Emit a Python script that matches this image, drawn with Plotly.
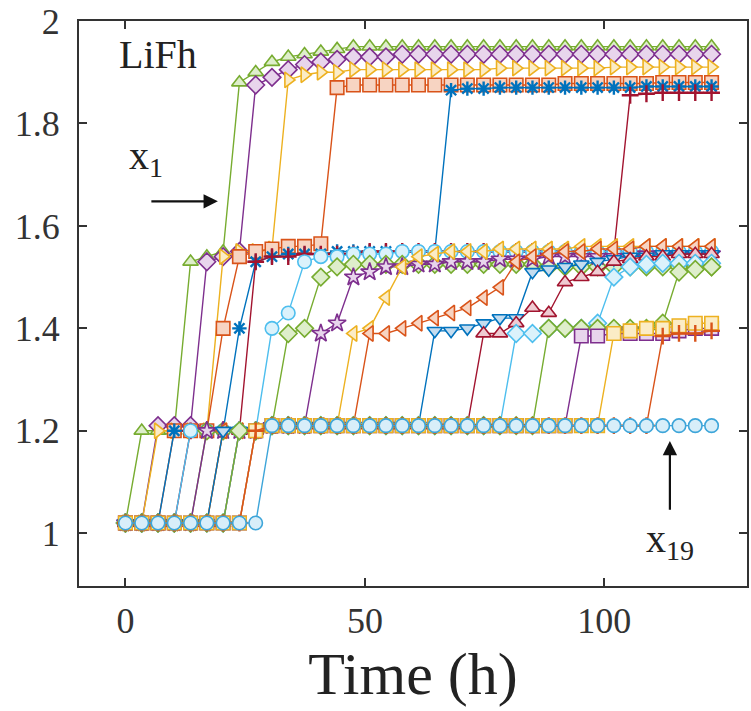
import plotly.graph_objects as go

time_h = [0.0, 3.4, 6.8, 10.2, 13.6, 17.0, 20.4, 23.8, 27.2, 30.6,
          34.0, 37.4, 40.8, 44.2, 47.6, 51.0, 54.4, 57.8, 61.2, 64.6,
          68.0, 71.4, 74.8, 78.2, 81.6, 85.0, 88.4, 91.8, 95.2, 98.6,
          102.0, 105.4, 108.8, 112.2, 115.6, 119.0, 122.4]

s01 = [1.02, 1.20, 1.20, 1.20, 1.53, 1.54, 1.55, 1.88, 1.90, 1.92,
       1.93, 1.935, 1.94, 1.945, 1.95, 1.95, 1.95, 1.95, 1.95, 1.95,
       1.95, 1.95, 1.95, 1.95, 1.95, 1.95, 1.95, 1.95, 1.95, 1.95,
       1.95, 1.95, 1.95, 1.95, 1.95, 1.95, 1.95]
s02 = [1.02, 1.02, 1.21, 1.21, 1.21, 1.53, 1.54, 1.55, 1.875, 1.89,
       1.905, 1.915, 1.92, 1.925, 1.93, 1.93, 1.93, 1.935, 1.935, 1.935,
       1.935, 1.935, 1.935, 1.935, 1.935, 1.935, 1.935, 1.935, 1.935, 1.935,
       1.935, 1.935, 1.935, 1.935, 1.935, 1.935, 1.935]
s03 = [1.02, 1.02, 1.20, 1.20, 1.20, 1.20, 1.54, 1.55, 1.55, 1.555,
       1.885, 1.895, 1.90, 1.90, 1.905, 1.905, 1.905, 1.905, 1.905, 1.905,
       1.905, 1.905, 1.905, 1.908, 1.908, 1.908, 1.908, 1.908, 1.908, 1.908,
       1.91, 1.91, 1.91, 1.91, 1.91, 1.91, 1.91]
s04 = [1.02, 1.02, 1.02, 1.20, 1.20, 1.20, 1.40, 1.54, 1.55, 1.555,
       1.56, 1.56, 1.565, 1.87, 1.875, 1.875, 1.875, 1.875, 1.875, 1.875,
       1.875, 1.875, 1.875, 1.875, 1.875, 1.875, 1.875, 1.878, 1.878, 1.878,
       1.878, 1.878, 1.878, 1.88, 1.88, 1.88, 1.88]
s05 = [1.02, 1.02, 1.02, 1.20, 1.20, 1.20, 1.20, 1.40, 1.53, 1.54,
       1.545, 1.545, 1.545, 1.55, 1.55, 1.55, 1.55, 1.55, 1.55, 1.55,
       1.865, 1.868, 1.868, 1.87, 1.87, 1.87, 1.87, 1.87, 1.87, 1.87,
       1.87, 1.87, 1.872, 1.872, 1.872, 1.872, 1.872]
s06 = [1.02, 1.02, 1.02, 1.02, 1.20, 1.20, 1.20, 1.20, 1.53, 1.54,
       1.54, 1.545, 1.545, 1.545, 1.545, 1.55, 1.55, 1.55, 1.55, 1.55,
       1.55, 1.55, 1.55, 1.55, 1.55, 1.55, 1.55, 1.55, 1.55, 1.55,
       1.55, 1.855, 1.858, 1.86, 1.86, 1.86, 1.86]
s07 = [1.02, 1.02, 1.02, 1.02, 1.20, 1.20, 1.20, 1.20, 1.20, 1.40,
       1.43, 1.53, 1.54, 1.54, 1.545, 1.545, 1.545, 1.55, 1.55, 1.55,
       1.55, 1.55, 1.55, 1.55, 1.55, 1.55, 1.55, 1.55, 1.55, 1.55,
       1.55, 1.55, 1.55, 1.55, 1.55, 1.55, 1.55]
s08 = [1.02, 1.02, 1.02, 1.02, 1.02, 1.20, 1.20, 1.20, 1.20, 1.21,
       1.39, 1.40, 1.50, 1.52, 1.525, 1.525, 1.525, 1.525, 1.525, 1.525,
       1.525, 1.525, 1.525, 1.525, 1.525, 1.525, 1.52, 1.52, 1.52, 1.52,
       1.52, 1.52, 1.52, 1.52, 1.52, 1.52, 1.52]
s09 = [1.02, 1.02, 1.02, 1.02, 1.02, 1.20, 1.20, 1.20, 1.20, 1.21,
       1.21, 1.21, 1.39, 1.41, 1.50, 1.51, 1.52, 1.52, 1.525, 1.525,
       1.53, 1.53, 1.53, 1.535, 1.535, 1.535, 1.54, 1.54, 1.54, 1.54,
       1.54, 1.54, 1.545, 1.545, 1.545, 1.545, 1.545]
s10 = [1.02, 1.02, 1.02, 1.02, 1.02, 1.02, 1.20, 1.20, 1.20, 1.21,
       1.21, 1.21, 1.21, 1.21, 1.39, 1.40, 1.46, 1.52, 1.54, 1.545,
       1.55, 1.55, 1.55, 1.555, 1.555, 1.555, 1.555, 1.555, 1.56, 1.56,
       1.56, 1.56, 1.56, 1.56, 1.56, 1.56, 1.56]
s11 = [1.02, 1.02, 1.02, 1.02, 1.02, 1.02, 1.20, 1.20, 1.20, 1.21,
       1.21, 1.21, 1.21, 1.21, 1.21, 1.39, 1.39, 1.40, 1.41, 1.42,
       1.43, 1.44, 1.46, 1.48, 1.53, 1.54, 1.545, 1.55, 1.55, 1.555,
       1.555, 1.555, 1.56, 1.56, 1.56, 1.56, 1.56]
s12 = [1.02, 1.02, 1.02, 1.02, 1.02, 1.02, 1.20, 1.20, 1.20, 1.21,
       1.21, 1.21, 1.21, 1.21, 1.21, 1.21, 1.21, 1.21, 1.21, 1.395,
       1.395, 1.40, 1.41, 1.42, 1.42, 1.51, 1.515, 1.52, 1.525, 1.53,
       1.535, 1.54, 1.54, 1.545, 1.545, 1.545, 1.545]
s13 = [1.02, 1.02, 1.02, 1.02, 1.02, 1.02, 1.02, 1.20, 1.20, 1.21,
       1.21, 1.21, 1.21, 1.21, 1.21, 1.21, 1.21, 1.21, 1.21, 1.21,
       1.21, 1.21, 1.39, 1.39, 1.41, 1.44, 1.43, 1.49, 1.50, 1.51,
       1.53, 1.535, 1.54, 1.54, 1.545, 1.545, 1.545]
s14 = [1.02, 1.02, 1.02, 1.02, 1.02, 1.02, 1.02, 1.20, 1.20, 1.21,
       1.21, 1.21, 1.21, 1.21, 1.21, 1.21, 1.21, 1.21, 1.21, 1.21,
       1.21, 1.21, 1.21, 1.21, 1.39, 1.39, 1.40, 1.40, 1.40, 1.41,
       1.50, 1.52, 1.525, 1.527, 1.527, 1.527, 1.527]
s15 = [1.02, 1.02, 1.02, 1.02, 1.02, 1.02, 1.02, 1.20, 1.20, 1.21,
       1.21, 1.21, 1.21, 1.21, 1.21, 1.21, 1.21, 1.21, 1.21, 1.21,
       1.21, 1.21, 1.21, 1.21, 1.21, 1.21, 1.40, 1.40, 1.40, 1.40,
       1.40, 1.40, 1.40, 1.41, 1.51, 1.515, 1.52]
s16 = [1.02, 1.02, 1.02, 1.02, 1.02, 1.02, 1.02, 1.02, 1.20, 1.21,
       1.21, 1.21, 1.21, 1.21, 1.21, 1.21, 1.21, 1.21, 1.21, 1.21,
       1.21, 1.21, 1.21, 1.21, 1.21, 1.21, 1.21, 1.21, 1.385, 1.385,
       1.39, 1.39, 1.39, 1.39, 1.395, 1.40, 1.40]
s17 = [1.02, 1.02, 1.02, 1.02, 1.02, 1.02, 1.02, 1.02, 1.20, 1.21,
       1.21, 1.21, 1.21, 1.21, 1.21, 1.21, 1.21, 1.21, 1.21, 1.21,
       1.21, 1.21, 1.21, 1.21, 1.21, 1.21, 1.21, 1.21, 1.21, 1.21,
       1.39, 1.395, 1.40, 1.40, 1.405, 1.41, 1.41]
s18 = [1.02, 1.02, 1.02, 1.02, 1.02, 1.02, 1.02, 1.02, 1.20, 1.21,
       1.21, 1.21, 1.21, 1.21, 1.21, 1.21, 1.21, 1.21, 1.21, 1.21,
       1.21, 1.21, 1.21, 1.21, 1.21, 1.21, 1.21, 1.21, 1.21, 1.21,
       1.21, 1.21, 1.21, 1.385, 1.39, 1.39, 1.395]
s19 = [1.02, 1.02, 1.02, 1.02, 1.02, 1.02, 1.02, 1.02, 1.02, 1.21,
       1.21, 1.21, 1.21, 1.21, 1.21, 1.21, 1.21, 1.21, 1.21, 1.21,
       1.21, 1.21, 1.21, 1.21, 1.21, 1.21, 1.21, 1.21, 1.21, 1.21,
       1.21, 1.21, 1.21, 1.21, 1.21, 1.21, 1.21]

series_values = [s01, s02, s03, s04, s05, s06, s07, s08, s09, s10,
                 s11, s12, s13, s14, s15, s16, s17, s18, s19]
series_names = ["x<sub>%d</sub>" % k for k in range(1, 20)]

x_ticks = [0, 50, 100]
y_ticks = [1.0, 1.2, 1.4, 1.6, 1.8, 2.0]
y_tick_labels = ["1", "1.2", "1.4", "1.6", "1.8", "2"]

# styles (MATLAB default palette)
B, O, Y, P, G, C, R = "#0072BD", "#D95319", "#EDB120", "#7E2F8E", "#77AC30", "#4DBEEE", "#A2142F"
X19 = "#3DA5D9"
TINT = {B: "#c4dcef", O: "#f7d4c2", Y: "#fbecc6", P: "#e8d5ec", G: "#deeecb",
        C: "#dbf2fb", R: "#efcbd2", X19: "#d8eef9"}
styles = [
    (G, "triangle-up"), (P, "diamond"), (Y, "triangle-right"), (O, "square"),
    (B, "asterisk-open"), (R, "cross-thin-open"), (C, "circle"), (G, "diamond"),
    (P, "star"), (Y, "triangle-left"), (O, "triangle-left"), (B, "triangle-down"),
    (R, "triangle-up"), (C, "diamond"), (G, "diamond"), (P, "square"),
    (Y, "square"), (O, "cross-thin-open"), (X19, "circle"),
]

fig = go.Figure()
for vals, name, (col, sym) in zip(series_values, series_names, styles):
    if sym.endswith("-open"):
        marker = dict(symbol=sym, size=12, color=col, line=dict(color=col, width=2.4))
    else:
        marker = dict(symbol=sym, size=13.5, color=TINT[col], line=dict(color=col, width=1.6))
    fig.add_trace(go.Scatter(x=time_h, y=vals, mode="lines+markers", name=name,
                             line=dict(color=col, width=1.4), marker=marker,
                             showlegend=False))

serif = "Liberation Serif, Times New Roman, serif"
fig.update_layout(
    width=751, height=711,
    margin=dict(l=79, r=2, t=20, b=125),
    paper_bgcolor="white", plot_bgcolor="white",
    font=dict(family=serif, color="#333"),
    xaxis=dict(range=[-9.7, 129.8], tickvals=x_ticks, ticks="inside", ticklen=8,
               tickwidth=1.5, tickcolor="#333", showline=True, linecolor="#333",
               linewidth=2, mirror="ticks", showgrid=False, zeroline=False,
               tickfont=dict(family=serif, size=36, color="#333"),
               ticklabelstandoff=2,
               title=dict(text="Time (h)", font=dict(family=serif, size=60, color="#222"),
                          standoff=4)),
    yaxis=dict(range=[0.897, 2.0], tickvals=y_ticks, ticktext=y_tick_labels,
               ticks="inside", ticklen=8, tickwidth=1.5, tickcolor="#333",
               showline=True, linecolor="#333", linewidth=2, mirror="ticks",
               showgrid=False, zeroline=False,
               tickfont=dict(family=serif, size=36, color="#333"),
               ticklabelstandoff=10),
)

fig.add_annotation(x=6.8, y=1.935, xref="x", yref="y", text="LiFh", showarrow=False,
                   font=dict(family=serif, size=40, color="#222"))
fig.add_annotation(x=0.3, y=1.732, xref="x", yref="y", text="x<sub>1</sub>", showarrow=False,
                   xanchor="left", yanchor="middle",
                   font=dict(family=serif, size=40, color="#222"))
fig.add_annotation(x=19.3, y=1.648, ax=5.1, ay=1.648, xref="x", yref="y", axref="x", ayref="y",
                   text="", showarrow=True, arrowhead=2, arrowsize=1.3, arrowwidth=2.2,
                   arrowcolor="#111")
fig.add_annotation(x=113.7, y=1.18, ax=113.7, ay=1.043, xref="x", yref="y", axref="x", ayref="y",
                   text="", showarrow=True, arrowhead=2, arrowsize=1.3, arrowwidth=2.2,
                   arrowcolor="#111")
fig.add_annotation(x=108.3, y=0.985, xref="x", yref="y", text="x<sub>19</sub>", showarrow=False,
                   xanchor="left", yanchor="middle",
                   font=dict(family=serif, size=40, color="#222"))

fig.write_html("out.html", config={"displayModeBar": False},
               post_script="document.body.style.margin='0px';document.body.style.padding='0px';")
